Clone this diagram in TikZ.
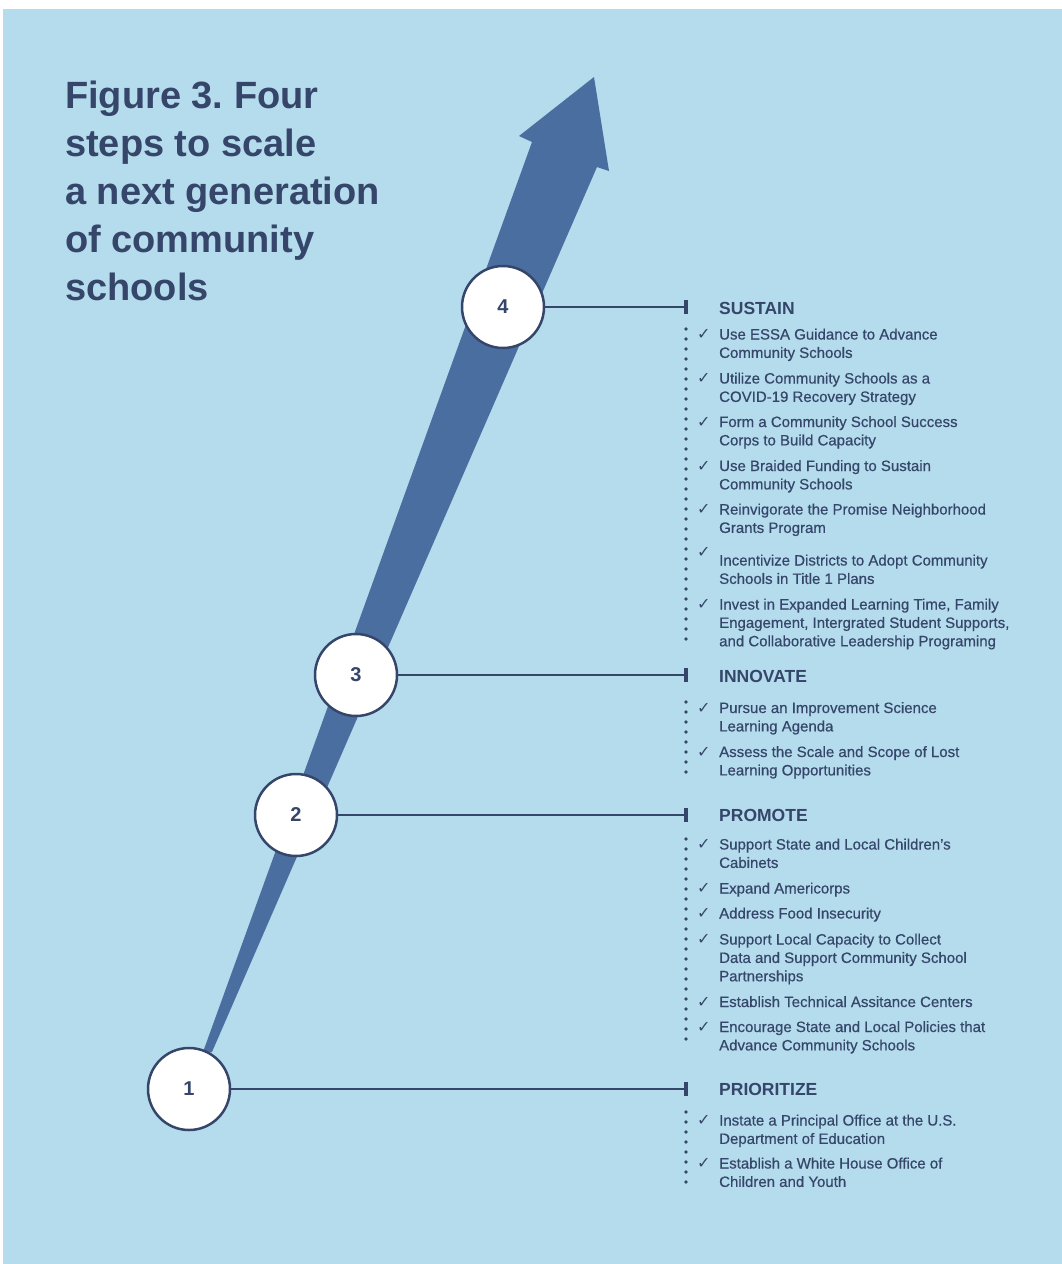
\documentclass[tikz,border=0pt]{standalone}
\usepackage{fontspec}
\setmainfont{Liberation Sans}
\newfontfamily\checkfont{DejaVu Sans}
\newfontfamily\itemfont[FakeBold=0.5]{Liberation Sans}
\usepackage{tikz}
\frenchspacing

\definecolor{bgblue}{HTML}{B5DCEC}
\definecolor{arrowblue}{HTML}{4B6EA0}
\definecolor{ink}{HTML}{35466A}

% lines of a label, hung from the baseline of the first one
\newcommand{\toplines}[1]{\begin{tabular}[t]{@{}l@{}}#1\end{tabular}}

\tikzset{
  stepcircle/.style={circle, draw=ink, line width=2.5pt, fill=white, minimum size=82pt,
    inner sep=0pt, text=ink, font=\fontsize{20}{24}\selectfont\bfseries},
  heading/.style={anchor=base west, inner sep=0pt, text=ink, font=\fontsize{17.5}{20}\selectfont\bfseries},
  item/.style={anchor=base west, inner sep=0pt, text=ink, font=\itemfont\fontsize{15}{18.4}\selectfont},
  checkmark/.style={anchor=base west, inner sep=0pt, text=ink, font=\checkfont\fontsize{16}{18}\selectfont},
}

\begin{document}
\begin{tikzpicture}[x=1pt,y=-1pt] % pixel units, y downwards
\useasboundingbox (0,0) rectangle (1062,1264);
\fill[white] (0,0) rectangle (1062,1264);
\fill[bgblue] (3,9) rectangle (1062,1264);

% title
\node[anchor=base west, inner sep=0pt, text=ink,
  font=\fontsize{38}{48}\selectfont\bfseries] (title) at (65,108)
  {\toplines{Figure 3. Four\\steps to scale\\a next generation\\of community\\schools}};

% the big arrow
\fill[arrowblue] (203,1052) -- (532,142) -- (519,136) -- (594,77) -- (609,171)
  -- (597,167) -- (212,1052) -- cycle;

% steps
\coordinate (e1) at (686,1089);
\coordinate (e2) at (686,815);
\coordinate (e3) at (686,675);
\coordinate (e4) at (686,307);
\node[stepcircle] (s1) at (189,1089) {1};
\node[stepcircle] (s2) at (296,815) {2};
\node[stepcircle] (s3) at (356,675) {3};
\node[stepcircle] (s4) at (503,307) {4};

\foreach \i in {1,2,3,4} {
\draw[ink, line width=2pt] (s\i) -- (e\i);
\draw[ink, line width=4pt] ([yshift=-7pt]e\i) -- ([yshift=7pt]e\i);
}

% dotted rails
\foreach \y in {329,339,...,639} {\fill[ink] (686,\y) circle (1.8);}
\foreach \y in {702,712,...,772} {\fill[ink] (686,\y) circle (1.8);}
\foreach \y in {839,849,...,1039} {\fill[ink] (686,\y) circle (1.8);}
\foreach \y in {1112,1122,...,1182} {\fill[ink] (686,\y) circle (1.8);}

% check marks
\foreach \y in {339.5,383.5,427,471,514.5,557,609.5, 713,757, 849.5,893.5,918.5,944.5,1007,1032, 1125.5,1168.5} {
\node[checkmark] at (697,\y) {✓};
}

% sustain
\node[heading] (h4) at (719,314) {SUSTAIN};
\node[item] (a1) at (719,339.5) {\toplines{Use ESSA Guidance to Advance\\Community Schools}};
\node[item] (a2) at (719,383.5) {\toplines{Utilize Community Schools as a\\COVID-19 Recovery Strategy}};
\node[item] (a3) at (719,427) {\toplines{Form a Community School Success\\Corps to Build Capacity}};
\node[item] (a4) at (719,471) {\toplines{Use Braided Funding to Sustain\\Community Schools}};
\node[item] (a5) at (719,514.5) {\toplines{Reinvigorate the Promise Neighborhood\\Grants Program}};
\node[item] (a6) at (719,565.5) {\toplines{Incentivize Districts to Adopt Community\\Schools in Title 1 Plans}};
\node[item] (a7) at (719,609.5) {\toplines{Invest in Expanded Learning Time, Family\\Engagement, Intergrated Student Supports,\\and Collaborative Leadership Programing}};

% innovate
\node[heading] (h3) at (719,682) {INNOVATE};
\node[item] (b1) at (719,713) {\toplines{Pursue an Improvement Science\\Learning Agenda}};
\node[item] (b2) at (719,757) {\toplines{Assess the Scale and Scope of Lost\\Learning Opportunities}};

% promote
\node[heading] (h2) at (719,821.5) {PROMOTE};
\node[item] (c1) at (719,849.5) {\toplines{Support State and Local Children’s\\Cabinets}};
\node[item] (c2) at (719,893.5) {Expand Americorps};
\node[item] (c3) at (719,918.5) {Address Food Insecurity};
\node[item] (c4) at (719,944.5) {\toplines{Support Local Capacity to Collect\\Data and Support Community School\\Partnerships}};
\node[item] (c5) at (719,1007) {Establish Technical Assitance Centers};
\node[item] (c6) at (719,1032) {\toplines{Encourage State and Local Policies that\\Advance Community Schools}};

% prioritize
\node[heading] (h1) at (719,1095.5) {PRIORITIZE};
\node[item] (d1) at (719,1125.5) {\toplines{Instate a Principal Office at the U.S.\\Department of Education}};
\node[item] (d2) at (719,1168.5) {\toplines{Establish a White House Office of\\Children and Youth}};
\end{tikzpicture}
\end{document}
